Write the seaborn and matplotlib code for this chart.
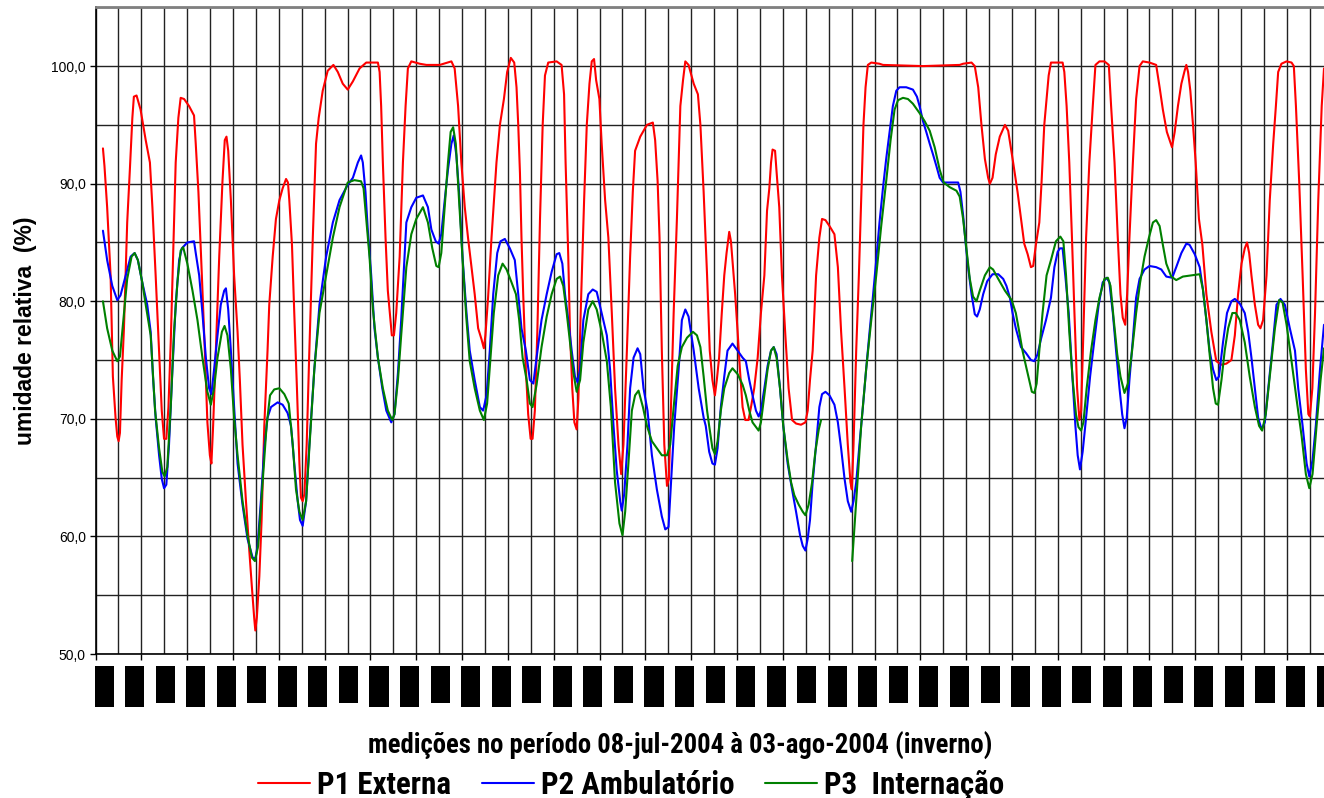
import numpy as np
import pandas as pd
import matplotlib
matplotlib.use("Agg")
import matplotlib.pyplot as plt
from matplotlib.lines import Line2D
from matplotlib.patches import Rectangle
from matplotlib.font_manager import FontProperties
import seaborn as sns

# Relative humidity readings, hours counted from 08-jul-2004 00h
p1_hours = [3.9, 4.7, 6.1, 7.9, 9.1, 10.5, 11.4, 12.1, 12.8, 13.7, 14.9, 16.6, 18.0, 19.3, 20.1, 21.5, 23.6, 26.3, 28.5, 29.8,
            31.5, 33.3, 34.7, 35.9, 37.1, 38.2, 39.4, 40.6, 42.0, 43.4, 44.6, 46.4, 49.0, 51.6, 52.5, 53.9, 55.7, 57.4, 58.6, 59.9,
            60.7, 61.6, 63.0, 64.8, 66.5, 67.7, 68.6, 69.5, 70.9, 72.6, 74.4, 75.6, 77.0, 78.8, 80.5, 81.9, 83.1, 83.7, 84.5, 85.8,
            87.0, 88.4, 90.1, 91.0, 92.8, 94.5, 96.3, 98.0, 99.8, 100.8, 101.5, 102.9, 104.1, 105.5, 106.8, 107.6, 108.5, 109.4, 110.6, 112.0,
            113.8, 115.5, 116.9, 119.0, 121.6, 124.6, 126.9, 129.5, 132.1, 134.8, 138.3, 141.8, 147.9, 148.8, 149.6, 150.5, 151.9, 153.1, 154.5, 155.2,
            156.3, 157.5, 159.3, 161.0, 162.4, 163.6, 165.4, 169.8, 173.3, 180.3, 186.4, 188.1, 189.9, 191.6, 193.4, 195.1, 196.9, 198.6, 200.4, 202.1,
            203.4, 204.2, 205.6, 207.4, 210.0, 211.8, 213.9, 215.6, 217.5, 219.3, 220.5, 221.4, 222.3, 223.1, 224.0, 225.4, 226.6, 227.9, 228.9, 230.1,
            231.4, 232.8, 234.2, 235.4, 237.1, 241.5, 244.1, 245.4, 246.2, 247.6, 248.5, 249.7, 250.8, 252.0, 252.9, 254.1, 255.9, 257.3, 258.7, 259.9,
            261.1, 262.2, 263.9, 265.1, 266.9, 268.6, 270.4, 272.1, 273.9, 275.3, 276.5, 278.3, 280.0, 281.4, 282.6, 285.3, 288.8, 291.9, 293.1, 294.4,
            295.4, 296.6, 297.9, 299.3, 300.3, 301.4, 302.8, 304.5, 306.3, 307.7, 308.9, 310.6, 313.3, 315.5, 316.8, 318.5, 320.3, 321.7, 323.1, 324.4,
            325.4, 326.6, 328.0, 329.3, 330.5, 331.9, 332.8, 333.6, 335.0, 336.3, 337.5, 338.9, 340.3, 342.0, 343.3, 345.0, 346.8, 348.5, 350.3, 351.7,
            352.9, 353.8, 354.6, 355.9, 356.7, 358.1, 359.5, 361.3, 363.0, 364.8, 366.9, 369.5, 371.8, 373.0, 374.2, 375.6, 377.4, 379.1, 380.5, 382.3,
            384.4, 387.0, 388.8, 390.5, 392.3, 394.0, 395.4, 396.1, 397.0, 398.4, 399.8, 401.0, 402.2, 403.3, 404.5, 406.3, 410.6, 412.4, 433.4, 452.6,
            454.4, 458.8, 460.5, 462.3, 464.0, 465.8, 467.5, 468.4, 469.8, 471.5, 473.6, 476.3, 478.0, 480.6, 482.9, 484.7, 486.4, 488.2, 489.9, 491.1,
            492.5, 494.3, 495.5, 496.9, 498.1, 499.2, 500.4, 506.5, 507.4, 508.6, 510.0, 511.4, 512.7, 514.1, 515.3, 516.2, 517.4, 518.8, 520.5, 522.3,
            523.7, 525.8, 528.4, 530.7, 531.9, 533.7, 535.4, 536.8, 538.0, 539.3, 540.3, 541.5, 543.3, 545.0, 546.8, 548.5, 552.0, 555.5, 557.3, 559.0,
            561.1, 563.8, 565.2, 566.9, 568.7, 570.4, 571.3, 572.2, 573.4, 574.8, 576.2, 577.9, 579.7, 581.8, 584.4, 587.0, 589.7, 592.3, 594.9, 596.7,
            598.4, 600.2, 601.9, 603.1, 604.2, 605.4, 607.2, 608.9, 610.1, 611.5, 613.3, 615.0, 616.8, 618.2, 619.4, 621.1, 623.8, 626.4, 627.6, 628.7,
            630.4, 632.2, 633.9, 635.2, 636.0, 637.3, 638.7, 640.4, 642.2, 643.4]
p1_values = [93.0, 91.5, 88.0, 82.2, 73.6, 70.1, 68.5, 68.1, 68.8, 73.3, 77.7, 86.7, 91.2, 95.6, 97.4, 97.5, 96.3, 93.7, 91.8, 88.0,
             82.2, 75.8, 70.7, 68.3, 68.3, 71.0, 76.5, 83.5, 91.8, 95.6, 97.3, 97.2, 96.6, 95.8, 93.4, 89.3, 82.2, 75.2, 69.7, 66.9,
             66.2, 69.4, 75.8, 83.8, 90.2, 93.7, 94.0, 92.8, 88.6, 82.2, 77.4, 73.3, 67.8, 63.0, 58.9, 55.7, 53.1, 52.0, 53.1, 56.6,
             61.4, 69.4, 75.8, 79.7, 83.8, 87.0, 88.6, 89.6, 90.4, 90.1, 88.6, 84.8, 79.0, 72.6, 66.2, 63.3, 63.0, 63.6, 67.8, 75.8,
             85.4, 93.4, 95.6, 97.9, 99.6, 100.1, 99.5, 98.5, 98.0, 98.7, 99.8, 100.3, 100.3, 99.5, 96.6, 91.8, 85.4, 80.9, 78.4, 77.1,
             77.1, 79.0, 83.8, 91.8, 96.6, 99.8, 100.4, 100.2, 100.1, 100.1, 100.4, 99.8, 96.6, 91.8, 88.0, 85.4, 82.9, 80.6, 77.7, 76.8,
             76.0, 77.1, 80.3, 85.4, 91.8, 95.0, 97.2, 99.5, 100.7, 100.3, 98.2, 95.0, 90.9, 85.4, 80.6, 74.2, 70.4, 68.3, 68.3, 70.7,
             77.4, 87.0, 95.0, 99.2, 100.3, 100.4, 100.1, 97.6, 91.8, 83.8, 77.4, 72.6, 69.7, 69.1, 71.7, 79.0, 88.6, 95.0, 98.5, 100.4,
             100.6, 98.8, 97.2, 93.4, 88.6, 85.4, 79.0, 72.6, 67.8, 65.3, 67.8, 75.8, 83.8, 89.3, 92.8, 94.0, 95.0, 95.2, 93.7, 90.2,
             85.4, 75.8, 67.8, 64.3, 64.9, 71.0, 79.0, 87.0, 96.6, 98.8, 100.4, 100.1, 98.5, 97.6, 95.0, 89.3, 82.2, 75.8, 73.3, 72.0,
             73.3, 75.2, 79.0, 82.2, 84.1, 85.9, 85.1, 83.5, 80.6, 77.4, 74.2, 71.0, 69.9, 69.9, 71.0, 72.6, 75.2, 79.0, 82.2, 87.7,
             89.6, 91.8, 92.9, 92.8, 91.0, 88.0, 82.2, 77.1, 72.6, 69.9, 69.6, 69.5, 69.7, 70.7, 73.3, 75.8, 82.2, 85.4, 87.0, 86.9,
             86.4, 85.7, 82.9, 77.4, 72.6, 67.8, 64.6, 64.0, 67.8, 75.8, 82.2, 88.6, 95.0, 98.2, 100.1, 100.3, 100.2, 100.1, 100.0, 100.1,
             100.2, 100.3, 100.0, 98.2, 95.0, 92.1, 90.5, 90.0, 90.5, 92.5, 94.0, 95.0, 94.5, 91.8, 89.3, 87.0, 84.9, 84.0, 82.9, 83.0,
             84.8, 86.7, 90.2, 95.0, 97.2, 99.2, 100.3, 100.3, 99.5, 96.6, 91.8, 85.4, 79.0, 72.6, 69.9, 70.7, 77.4, 85.4, 91.8, 96.6,
             100.1, 100.4, 100.4, 100.1, 96.6, 91.8, 85.4, 80.6, 78.6, 78.0, 80.6, 85.4, 91.8, 97.2, 100.0, 100.4, 100.3, 100.1, 98.2, 96.3,
             94.4, 93.1, 94.4, 96.6, 98.5, 99.6, 100.1, 99.5, 97.9, 95.0, 91.8, 87.0, 84.8, 80.6, 77.4, 74.9, 74.6, 74.7, 75.0, 77.1,
             80.6, 83.2, 84.5, 85.0, 84.1, 82.2, 79.7, 78.0, 77.7, 78.4, 82.2, 88.6, 93.4, 96.6, 99.5, 100.2, 100.4, 100.3, 100.0, 96.6,
             90.2, 82.2, 74.2, 70.4, 70.2, 72.6, 79.0, 88.6, 96.6, 99.8]

p2_hours = [3.9, 6.1, 8.8, 11.4, 13.1, 15.8, 18.4, 20.5, 22.2, 24.5, 27.1, 28.9, 30.1, 31.5, 33.3, 34.7, 35.9, 37.1, 38.5, 40.3,
            42.0, 43.8, 45.2, 48.1, 51.6, 52.5, 54.3, 56.0, 57.8, 59.5, 60.7, 62.1, 63.9, 65.6, 67.4, 68.3, 69.5, 70.9, 72.6, 74.4,
            77.0, 79.6, 82.3, 83.7, 84.9, 86.6, 88.4, 90.1, 91.9, 95.4, 98.0, 100.6, 102.4, 104.1, 105.9, 107.1, 108.5, 110.3, 112.0, 114.6,
            117.3, 120.8, 124.3, 127.8, 132.1, 134.8, 137.4, 139.1, 140.0, 141.4, 142.6, 144.4, 146.1, 147.9, 150.2, 152.3, 154.9, 156.6, 158.4, 160.1,
            162.8, 165.4, 168.0, 171.5, 174.1, 175.9, 178.2, 179.7, 181.1, 182.9, 184.6, 186.4, 187.6, 189.0, 190.4, 192.2, 194.3, 196.0, 198.6, 201.3,
            203.0, 204.8, 206.5, 208.3, 210.4, 212.1, 214.4, 217.0, 219.6, 221.4, 223.1, 225.4, 227.5, 229.3, 231.0, 233.6, 236.3, 238.9, 241.5, 242.9,
            244.5, 245.9, 247.6, 249.4, 251.1, 252.5, 253.8, 255.5, 258.1, 260.4, 262.5, 265.1, 267.8, 269.5, 271.3, 273.0, 274.8, 275.6, 276.9, 278.6,
            280.0, 281.8, 283.9, 285.3, 287.0, 289.1, 291.4, 294.0, 296.6, 298.4, 300.1, 301.4, 303.1, 305.4, 307.1, 308.9, 310.6, 313.3, 315.9, 318.5,
            319.6, 321.4, 323.1, 324.4, 325.8, 327.5, 329.3, 331.0, 333.6, 336.3, 338.9, 340.6, 342.4, 344.1, 345.9, 347.3, 348.5, 350.3, 352.0, 353.8,
            355.2, 356.7, 358.5, 360.2, 362.5, 364.8, 366.9, 369.0, 370.4, 371.8, 373.0, 374.2, 375.6, 377.4, 379.1, 380.5, 382.3, 384.4, 387.0, 388.8,
            390.5, 392.3, 394.0, 395.8, 397.0, 398.4, 400.1, 401.9, 403.6, 405.4, 407.1, 408.9, 410.6, 412.4, 414.1, 415.9, 417.6, 419.4, 421.1, 424.6,
            428.1, 430.2, 431.6, 433.4, 435.1, 436.9, 438.6, 440.4, 442.1, 443.9, 447.4, 451.8, 453.0, 454.4, 455.8, 457.0, 458.8, 460.5, 461.7, 463.1,
            464.9, 467.0, 469.8, 472.8, 475.4, 477.1, 478.9, 480.3, 482.0, 484.7, 487.3, 489.9, 491.7, 493.4, 495.2, 497.8, 500.4, 502.2, 503.9, 505.1,
            506.5, 507.9, 509.7, 511.4, 513.2, 514.4, 515.6, 517.0, 518.8, 520.9, 523.2, 525.4, 527.5, 529.6, 531.0, 532.8, 534.5, 536.3, 537.7, 538.9,
            540.1, 541.5, 543.3, 545.0, 546.8, 549.4, 552.0, 555.5, 558.2, 560.8, 563.9, 566.0, 568.7, 571.3, 573.0, 575.7, 578.3, 580.0, 581.8, 583.5,
            585.3, 587.0, 588.4, 590.5, 592.6, 594.9, 596.7, 599.3, 601.9, 603.7, 605.4, 607.2, 608.9, 610.7, 612.4, 614.2, 616.4, 618.5, 620.6, 622.9,
            625.5, 628.2, 629.9, 632.2, 634.3, 635.7, 637.4, 639.1, 641.3, 643.4]
p2_values = [86.0, 83.5, 81.3, 80.1, 80.5, 82.2, 83.8, 84.1, 83.5, 81.6, 79.7, 77.4, 73.6, 70.1, 66.9, 64.9, 64.1, 64.4, 67.8, 74.2,
             79.7, 83.5, 84.5, 85.0, 85.1, 84.1, 82.2, 79.0, 75.2, 72.6, 72.1, 74.2, 77.1, 79.7, 80.9, 81.1, 79.3, 75.8, 71.0, 66.2,
             62.7, 59.8, 58.2, 58.1, 59.2, 63.0, 67.5, 70.1, 71.0, 71.4, 71.2, 70.5, 69.4, 66.2, 63.0, 61.4, 60.9, 63.0, 67.8, 74.2,
             79.7, 83.8, 86.7, 88.6, 89.9, 90.5, 91.8, 92.4, 91.8, 89.3, 86.1, 82.2, 77.7, 75.2, 72.6, 70.7, 69.7, 70.4, 73.9, 78.4,
             86.7, 88.0, 88.8, 89.0, 88.0, 86.1, 85.1, 84.9, 85.7, 88.6, 91.2, 93.4, 94.1, 92.4, 89.3, 83.8, 79.0, 75.8, 73.3, 71.0,
             70.7, 72.0, 75.8, 80.6, 84.1, 85.1, 85.3, 84.5, 83.5, 80.6, 77.7, 75.8, 73.3, 73.0, 75.2, 78.4, 80.6, 82.5, 84.0, 84.1,
             83.2, 80.6, 78.4, 75.8, 73.6, 73.1, 74.2, 78.4, 80.6, 81.0, 80.8, 79.0, 77.1, 74.2, 69.4, 65.6, 63.0, 62.2, 63.6, 67.8,
             72.6, 75.2, 76.0, 75.5, 72.6, 70.7, 66.9, 64.0, 61.7, 60.6, 60.8, 64.6, 69.4, 74.2, 78.4, 79.3, 78.7, 75.8, 72.6, 70.1,
             69.4, 67.2, 66.2, 66.1, 67.5, 71.0, 73.6, 75.8, 76.4, 75.8, 75.2, 74.9, 73.3, 72.0, 70.7, 70.2, 70.7, 72.6, 74.5, 75.8,
             76.1, 75.5, 72.6, 69.4, 66.2, 64.0, 62.1, 60.1, 59.2, 58.8, 59.8, 61.4, 64.6, 67.8, 71.0, 72.1, 72.3, 72.0, 71.2, 69.7,
             67.5, 64.9, 63.0, 62.1, 63.0, 64.6, 67.8, 71.0, 74.2, 77.4, 80.3, 83.5, 86.7, 89.6, 92.1, 94.4, 96.6, 97.9, 98.2, 98.2,
             98.0, 97.4, 96.6, 95.3, 94.4, 93.4, 92.5, 91.5, 90.5, 90.1, 90.1, 90.1, 89.3, 87.3, 84.8, 82.9, 80.6, 78.9, 78.7, 79.3,
             80.6, 81.7, 82.3, 82.3, 81.9, 81.3, 80.3, 79.0, 77.7, 76.1, 75.6, 75.0, 74.9, 75.5, 76.8, 78.4, 80.3, 82.9, 84.2, 84.5,
             84.5, 82.2, 79.0, 74.2, 69.4, 66.9, 65.7, 67.2, 70.1, 73.6, 76.8, 79.7, 81.6, 82.0, 81.6, 79.0, 75.8, 72.6, 70.4, 69.2,
             70.1, 73.3, 76.8, 80.3, 81.9, 82.7, 83.0, 82.9, 82.7, 82.1, 82.0, 82.9, 84.1, 84.9, 84.8, 84.0, 82.9, 81.0, 78.4, 75.8,
             74.2, 73.3, 73.6, 76.5, 79.0, 80.0, 80.2, 79.8, 79.0, 77.4, 75.2, 72.6, 70.1, 69.1, 69.7, 72.6, 76.1, 79.7, 80.2, 79.7,
             77.7, 75.8, 72.6, 69.4, 66.2, 65.1, 66.5, 69.4, 74.2, 78.0]

# P3 has a short interruption in the record (NaN)
p3_hours = [3.9, 6.1, 8.8, 11.4, 12.8, 14.9, 16.6, 18.9, 20.5, 22.2, 24.5, 26.3, 28.9, 31.2, 33.3, 35.0, 36.2, 37.6, 39.4, 41.1,
            42.9, 44.6, 45.9, 48.1, 50.8, 53.4, 56.0, 58.6, 60.4, 62.1, 63.9, 66.2, 67.6, 69.1, 70.9, 72.6, 74.4, 77.0, 79.6, 81.9,
            83.5, 85.2, 87.5, 89.6, 91.4, 93.6, 96.3, 98.9, 101.2, 103.3, 105.0, 106.8, 108.5, 110.3, 112.0, 114.6, 117.3, 120.8, 124.3, 127.8,
            132.1, 135.6, 139.1, 140.4, 141.8, 143.5, 145.3, 147.9, 150.5, 153.1, 155.4, 156.6, 158.4, 160.1, 162.8, 165.4, 168.0, 171.5, 174.1, 176.4,
            178.5, 179.7, 181.1, 182.9, 184.6, 186.0, 187.3, 188.7, 190.4, 192.5, 194.3, 196.0, 198.6, 201.3, 203.4, 205.1, 206.9, 208.6, 210.9, 213.2,
            215.3, 217.9, 220.2, 221.9, 223.7, 225.8, 227.5, 228.9, 231.0, 233.6, 236.3, 238.9, 241.5, 243.3, 245.0, 246.8, 248.5, 250.3, 252.0, 253.8,
            255.5, 258.1, 260.4, 262.5, 265.1, 267.8, 269.9, 272.1, 274.4, 276.0, 277.4, 279.1, 280.9, 282.6, 284.4, 286.7, 288.8, 291.4, 294.0, 296.6,
            299.3, 301.0, 302.8, 304.9, 307.1, 309.8, 312.9, 315.0, 316.8, 318.5, 320.3, 321.4, 323.1, 324.4, 325.8, 327.5, 329.3, 331.9, 333.6, 336.3,
            338.9, 340.6, 342.4, 344.1, 345.9, 347.3, 348.5, 350.3, 352.0, 353.8, 355.2, 356.7, 358.5, 360.2, 362.5, 364.3, 366.0, 368.3, 370.4, 371.8,
            373.5, 375.3, 377.0, 378.8, 380.0, 388.0, 396.3, 398.4, 401.0, 403.6, 406.3, 408.9, 411.5, 414.1, 416.4, 418.5, 420.3, 422.9, 425.5, 428.1,
            431.6, 434.3, 436.9, 439.5, 442.1, 444.2, 447.4, 450.9, 452.6, 454.4, 456.1, 457.9, 459.6, 461.4, 463.1, 465.8, 468.4, 470.1, 472.8, 476.3,
            479.8, 482.0, 483.8, 485.5, 487.3, 489.0, 490.4, 491.7, 492.9, 494.3, 496.0, 498.1, 500.4, 503.0, 505.3, 506.9, 508.3, 510.0, 511.8, 513.5,
            514.8, 516.2, 517.4, 519.1, 521.4, 523.7, 525.8, 528.4, 530.2, 531.6, 533.3, 535.1, 536.8, 538.9, 540.7, 542.9, 545.0, 547.1, 549.4, 551.7,
            553.8, 555.5, 557.3, 559.0, 560.8, 563.4, 566.0, 569.5, 573.9, 578.3, 580.0, 581.8, 583.5, 585.3, 586.7, 587.9, 589.7, 591.4, 593.2, 595.4,
            597.2, 599.3, 601.9, 604.5, 607.2, 609.4, 611.0, 612.9, 615.0, 617.7, 619.9, 621.7, 623.8, 626.4, 629.0, 631.7, 633.9, 635.7, 637.4, 639.5,
            641.6, 643.4]
p3_values = [80.0, 77.7, 75.8, 74.9, 75.3, 79.0, 81.9, 83.8, 84.1, 83.5, 81.6, 79.7, 77.1, 70.7, 67.5, 65.5, 65.1, 65.9, 71.0, 77.4,
             81.6, 84.3, 84.6, 83.2, 80.9, 78.4, 75.2, 72.3, 71.2, 72.6, 75.2, 77.4, 77.9, 77.1, 74.2, 70.1, 66.9, 63.0, 60.1, 58.2,
             57.9, 59.2, 64.6, 69.4, 72.0, 72.5, 72.6, 72.1, 71.3, 67.8, 64.0, 62.1, 61.4, 63.0, 67.5, 74.2, 79.0, 82.2, 85.4, 88.0,
             90.1, 90.3, 90.2, 89.6, 87.0, 83.8, 79.3, 75.2, 72.6, 70.7, 69.9, 70.4, 73.3, 77.1, 82.9, 85.7, 87.0, 88.0, 86.7, 84.5,
             83.0, 82.9, 84.1, 88.0, 91.8, 94.4, 94.8, 93.4, 88.6, 82.9, 78.4, 74.9, 72.6, 70.7, 69.9, 71.3, 75.2, 79.0, 82.2, 83.2,
             82.7, 81.6, 80.6, 78.4, 75.2, 73.3, 71.3, 71.0, 72.9, 76.1, 78.7, 80.6, 81.9, 82.1, 81.3, 79.0, 76.5, 73.9, 72.3, 73.3,
             76.5, 79.3, 80.0, 79.3, 77.4, 74.9, 71.0, 64.6, 61.1, 60.1, 62.1, 66.2, 70.7, 72.0, 72.4, 71.0, 69.4, 68.1, 67.5, 66.9,
             66.9, 67.8, 71.0, 74.5, 76.1, 76.9, 77.4, 77.1, 76.1, 73.6, 70.7, 69.4, 67.5, 67.0, 68.1, 70.7, 72.6, 73.9, 74.3, 73.8,
             72.9, 72.0, 70.7, 69.7, 69.3, 69.0, 69.7, 72.0, 74.2, 75.8, 76.1, 75.2, 72.6, 69.4, 66.5, 64.6, 63.5, 62.7, 62.1, 61.8,
             62.7, 64.6, 67.2, 69.1, 69.9, np.nan, 57.9, 63.0, 69.4, 74.2, 78.4, 82.2, 86.4, 90.2, 93.7, 96.3, 97.1, 97.3, 97.2, 96.8,
             96.0, 95.3, 94.5, 93.1, 91.2, 90.1, 89.7, 89.4, 88.9, 87.0, 84.5, 81.9, 80.4, 80.0, 80.9, 82.2, 82.9, 82.7, 81.9, 80.9,
             80.1, 79.0, 77.4, 75.8, 74.5, 73.3, 72.3, 72.2, 73.0, 75.8, 79.0, 82.2, 83.5, 85.1, 85.5, 85.1, 82.2, 77.4, 73.3, 70.4,
             69.3, 69.0, 69.7, 72.6, 75.8, 78.4, 80.3, 81.9, 82.0, 81.3, 78.4, 75.5, 73.6, 72.2, 73.0, 75.8, 79.0, 81.6, 83.8, 85.4,
             86.7, 86.9, 86.4, 84.8, 83.2, 82.1, 81.8, 82.1, 82.2, 82.3, 81.0, 78.4, 75.5, 72.6, 71.3, 71.2, 73.3, 75.8, 77.7, 79.0,
             79.0, 78.4, 76.5, 73.6, 71.0, 69.4, 69.0, 70.4, 73.6, 77.7, 80.1, 79.9, 78.0, 74.9, 71.7, 68.5, 65.3, 64.1, 65.3, 69.4,
             73.3, 76.0]

series_names = ["P1 Externa", "P2 Ambulatório", "P3  Internação"]
series_colors = ["#ff0000", "#0000ff", "#008000"]

y_ticks = [50, 60, 70, 80, 90, 100]
y_grid = [55, 65, 75, 85, 95, 105]
x_label = "medições no período 08-jul-2004 à 03-ago-2004 (inverno)"
y_label = "umidade relativa  (%)"

sns.set_theme(style="white")
plt.rcParams["font.family"] = ["Liberation Sans", "DejaVu Sans"]
plt.rcParams["text.color"] = "black"
plt.rcParams["axes.labelcolor"] = "black"
plt.rcParams["xtick.color"] = "black"
plt.rcParams["ytick.color"] = "black"

narrow_font = ["Roboto Condensed", "DejaVu Sans"]

W, H = 1324, 798
fig = plt.figure(figsize=(W / 100, H / 100), dpi=100)
ax = fig.add_axes([95.5 / W, 144 / H, (W - 95.5) / W, 646.7 / H])

for name, hrs, vals, color in zip(series_names, [p1_hours, p2_hours, p3_hours],
                                  [p1_values, p2_values, p3_values], series_colors):
    df = pd.DataFrame({"hora": hrs, "umidade": vals})
    df["trecho"] = df["umidade"].isna().cumsum()
    df = df.dropna()
    sns.lineplot(data=df, x="hora", y="umidade", units="trecho", estimator=None,
                 sort=False, color=color, lw=1.5, ax=ax, legend=False)

x_end = 643.4
ax.set_xlim(0, x_end)
ax.set_ylim(50, 105)
ax.set_xlabel("")
ax.set_ylabel(y_label, fontsize=16.5, fontweight="bold")
ax.yaxis.set_label_coords(-0.048, 0.5)

ax.set_yticks(y_ticks)
ax.set_yticks(y_grid, minor=True)
ax.set_yticklabels([f"{v:.1f}".replace(".", ",") for v in y_ticks], fontsize=10)
ax.set_xticks(np.arange(0, x_end, 24))
ax.set_xticks(np.arange(12, x_end, 24), minor=True)
ax.set_xticklabels([])
ax.grid(True, which="both", color="#222222", lw=1.0)
ax.set_axisbelow(True)
ax.tick_params(axis="both", which="major", direction="out", length=4, width=1, color="black",
               left=True, bottom=True, pad=3, labelcolor="black")
ax.tick_params(axis="both", which="minor", length=0)

for side in ["left", "bottom"]:
    ax.spines[side].set_color("black")
    ax.spines[side].set_linewidth(1.2)
ax.spines["top"].set_color("#808080")
ax.spines["top"].set_linewidth(2)
ax.spines["right"].set_visible(False)

# date labels on the time axis render as solid blocks
label_hours = np.arange(0, 41) * 16 + 4.5
for k, h in enumerate(label_hours):
    bottom = -0.0757 if k % 3 == 2 else -0.0819
    rect = Rectangle((h - 5.0, bottom), 10.0, -0.0186 - bottom,
                     transform=ax.get_xaxis_transform(), facecolor="black",
                     edgecolor="none", clip_on=False)
    ax.add_patch(rect)

renderer = fig.canvas.get_renderer()


def text_width(s, size):
    t = fig.text(0, 0, s, fontsize=size, fontweight="bold", family=narrow_font)
    w = t.get_window_extent(renderer).width
    t.remove()
    return w


# axis title under the time axis, sized to its printed width
xl_size = 18 * 626 / text_width(x_label, 18)
fig.text(680 / W, 1 - 746 / H, x_label, ha="center", va="center",
         fontsize=xl_size, fontweight="bold", family=narrow_font)

# legend row, sized from the width of its first entry
lg_size = 18 * 134 / text_width(series_names[0], 18)
em = lg_size * 100 / 72
handles = [Line2D([], [], color=c, lw=1.5) for c in series_colors]
fig.legend(handles, series_names, loc="center", bbox_to_anchor=(631 / W, 1 - 785 / H),
           ncol=3, frameon=False, handlelength=52 / em, handletextpad=7 / em,
           columnspacing=31 / em, borderpad=0, borderaxespad=0,
           prop={"family": narrow_font, "weight": "bold", "size": lg_size})

fig.savefig("out.png", dpi=100)
